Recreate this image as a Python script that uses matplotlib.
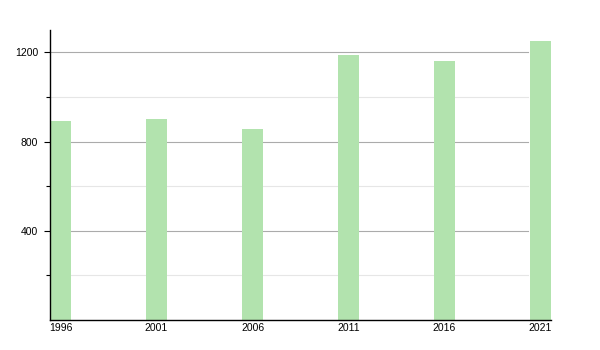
import matplotlib
matplotlib.use("Agg")
import matplotlib.pyplot as plt

years = [1996, 2001, 2006, 2011, 2016, 2021]
values = [894, 899, 858, 1186, 1160, 1249]
major_ticks = [400, 800, 1200]
minor_ticks = [200, 600, 1000]

plt.rcParams['font.family'] = ['Liberation Sans', 'DejaVu Sans']

fig = plt.figure(figsize=(6, 3.5), dpi=100)
ax = fig.add_axes([50 / 600, 30 / 350, 501 / 600, 290 / 350])

# gridlines stop short of the last bar, like the original
for y in minor_ticks:
    ax.axhline(y, xmin=0, xmax=0.954, color='#e6e6e6', lw=0.8, zorder=0)
for y in major_ticks:
    ax.axhline(y, xmin=0, xmax=0.954, color='#ababab', lw=0.8, zorder=0)

ax.bar(years, values, width=1.1, color='#b2e3ae', zorder=2)

ax.set_xlim(1995.45, 2021.55)
ax.set_ylim(0, 1300)
ax.set_xticks(years)
ax.set_yticks(major_ticks)
ax.set_yticks(minor_ticks, minor=True)
ax.tick_params(axis='y', which='major', length=4, width=0.8, labelsize=7.5, pad=4.5)
ax.tick_params(axis='y', which='minor', length=3, width=0.8)
ax.tick_params(axis='x', length=0, labelsize=7.5, pad=2)

for s in ['top', 'right']:
    ax.spines[s].set_visible(False)
ax.spines['left'].set_linewidth(1)
ax.spines['bottom'].set_linewidth(1)

fig.savefig('out.png', dpi=100)
